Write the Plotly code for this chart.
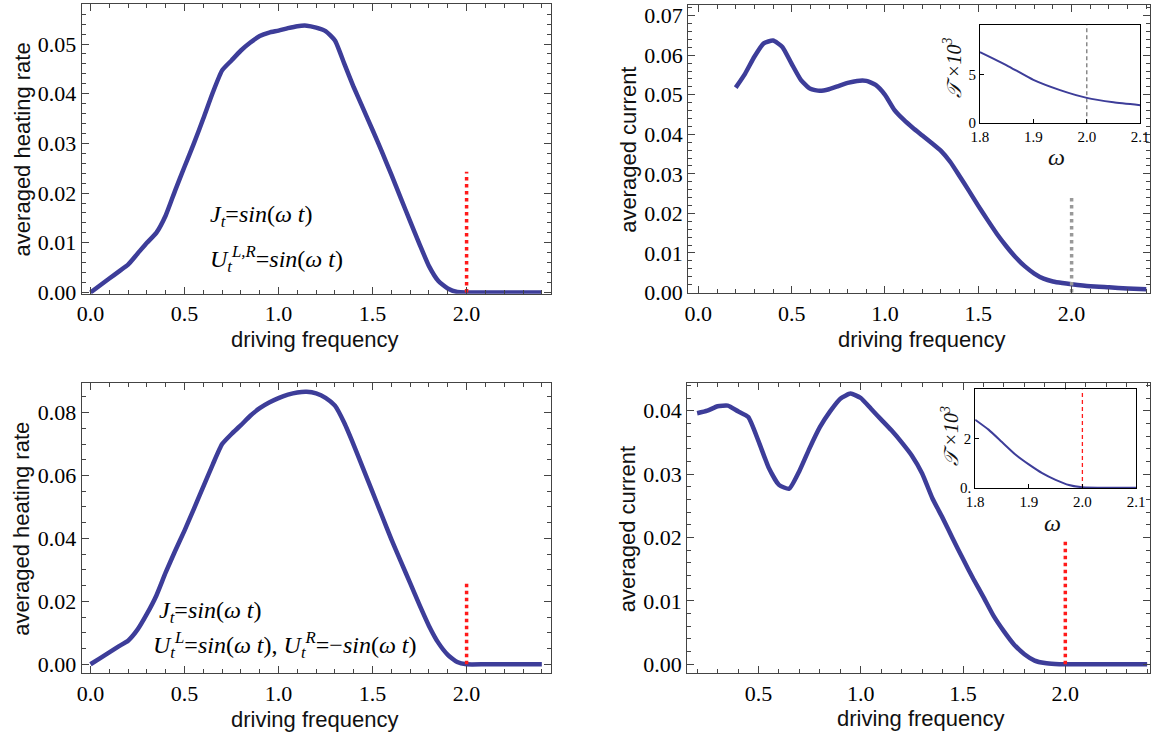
import plotly.graph_objects as go

W, H = 1159, 743
# observed placement of the figure inside the photographed page
OX, OY, SW, SH = 8.0, 0.0, 1142.0, 733.0

# ---------------- data ----------------
freq_heat = [0, 0.05, 0.1, 0.15, 0.2, 0.25, 0.3, 0.35, 0.4, 0.45, 0.5, 0.55, 0.6, 0.65, 0.7,
             0.75, 0.8, 0.85, 0.9, 0.95, 1.0, 1.05, 1.1, 1.15, 1.2, 1.25, 1.3, 1.35, 1.4, 1.45,
             1.5, 1.55, 1.6, 1.65, 1.7, 1.75, 1.8, 1.85, 1.9, 1.95, 2.0, 2.1, 2.2, 2.3, 2.4]
heat_same = [0, 0.0014, 0.0028, 0.0042, 0.0056, 0.0078, 0.0100, 0.0120, 0.0155, 0.0205, 0.0253,
             0.0300, 0.0350, 0.0402, 0.0447, 0.0467, 0.0487, 0.0503, 0.0516, 0.0523, 0.0527,
             0.0532, 0.0536, 0.0537, 0.0533, 0.0526, 0.0507, 0.0460, 0.0413, 0.0370, 0.0327,
             0.0283, 0.0237, 0.0190, 0.0143, 0.0097, 0.0053, 0.0023, 0.0008, 0.0001, 0, 0, 0, 0, 0]
heat_opp = [0, 0.0019, 0.0038, 0.0057, 0.0075, 0.0110, 0.0160, 0.0218, 0.0292, 0.0360, 0.0425,
            0.0494, 0.0565, 0.0635, 0.0700, 0.0732, 0.0760, 0.0790, 0.0814, 0.0832, 0.0846,
            0.0857, 0.0864, 0.0866, 0.0861, 0.0847, 0.0822, 0.0767, 0.0697, 0.0622, 0.0547,
            0.0472, 0.0397, 0.0327, 0.0258, 0.0188, 0.0122, 0.0068, 0.0030, 0.0007, 0, 0, 0, 0, 0]

freq_cur = [0.2, 0.25, 0.3, 0.35, 0.4, 0.45, 0.5, 0.55, 0.6, 0.65, 0.7, 0.75, 0.8, 0.85, 0.9,
            0.95, 1.0, 1.05, 1.1, 1.15, 1.2, 1.25, 1.3, 1.35, 1.4, 1.45, 1.5, 1.55, 1.6, 1.65,
            1.7, 1.75, 1.8, 1.85, 1.9, 1.95, 2.0, 2.1, 2.2, 2.3, 2.4]
cur_same = [0.0518, 0.0553, 0.0596, 0.0630, 0.0637, 0.0621, 0.0578, 0.0537, 0.0515, 0.0510,
            0.0514, 0.0522, 0.0530, 0.0535, 0.0535, 0.0525, 0.0500, 0.0462, 0.0437, 0.0416,
            0.0397, 0.0378, 0.0358, 0.0330, 0.0294, 0.0257, 0.0219, 0.0183, 0.0148, 0.0117,
            0.0089, 0.0066, 0.0048, 0.0035, 0.0028, 0.0024, 0.0021, 0.0016, 0.0013, 0.0010, 0.0008]
cur_opp = [0.0396, 0.0400, 0.0407, 0.0408, 0.0399, 0.0390, 0.0352, 0.0310, 0.0283, 0.0277,
           0.0305, 0.0341, 0.0374, 0.0399, 0.0419, 0.0427, 0.0420, 0.0403, 0.0386, 0.0369,
           0.0350, 0.0329, 0.0301, 0.0262, 0.0231, 0.0198, 0.0166, 0.0135, 0.0106, 0.0076,
           0.0052, 0.0031, 0.0016, 0.0006, 0.0002, 0.00005, 0, 0, 0, 0, 0]

inset_w1 = [1.8, 1.85, 1.9, 1.95, 2.0, 2.05, 2.1]
inset_cur1 = [7.3, 5.95, 4.45, 3.4, 2.6, 2.15, 1.85]
inset_w2 = [1.8, 1.825, 1.85, 1.875, 1.9, 1.925, 1.95, 1.975, 2.0, 2.05, 2.1]
inset_cur2 = [2.75, 2.35, 1.85, 1.35, 0.95, 0.6, 0.33, 0.12, 0.03, 0.01, 0.01]

omega_c = [2.0, 2.0]
mark_heat_same = [0, 0.0243]
mark_cur_same = [0, 0.0242]
mark_heat_opp = [0, 0.0256]
mark_cur_opp = [0, 0.0195]
inset_mark1 = [0, 10.1]
inset_mark2 = [0, 3.97]

BLUE = "#3d3d99"
SERIF = "Liberation Serif"
SANS = "Liberation Sans"
AX = "#444444"

def ux(px):
    return min(1.0, max(0.0, (px - OX) / SW))

def vy(py):
    return min(1.0, max(0.0, 1 - (py - OY) / SH))

def dx(a, b):
    return [ux(a), ux(b)]

def dy(top, bottom):
    return [vy(bottom), vy(top)]

fig = go.Figure()

def curve(x, y, xa, ya, width=4.5):
    fig.add_trace(go.Scatter(x=x, y=y, xaxis=xa, yaxis=ya, mode="lines",
                             line=dict(color=BLUE, width=width, shape="spline", smoothing=0.5),
                             showlegend=False, hoverinfo="skip"))

def vline(x, y, xa, ya, color, width, dash):
    fig.add_trace(go.Scatter(x=x, y=y, xaxis=xa, yaxis=ya, mode="lines",
                             line=dict(color=color, width=width, dash=dash),
                             showlegend=False, hoverinfo="skip"))

curve(freq_heat, heat_same, "x", "y")
vline(omega_c, mark_heat_same, "x", "y", "#ff1a1a", 3.5, "dot")
curve(freq_cur, cur_same, "x2", "y2")
vline(omega_c, mark_cur_same, "x2", "y2", "#999999", 3.5, "dot")
curve(freq_heat, heat_opp, "x3", "y3")
vline(omega_c, mark_heat_opp, "x3", "y3", "#ff1a1a", 3.5, "dot")
curve(freq_cur, cur_opp, "x4", "y4")
vline(omega_c, mark_cur_opp, "x4", "y4", "#ff1a1a", 3.5, "dot")
vline(omega_c, inset_mark1, "x5", "y5", "#777777", 1.3, "4px,3px")
curve(inset_w1, inset_cur1, "x5", "y5", width=2)
vline(omega_c, inset_mark2, "x6", "y6", "#ff1a1a", 1.3, "4px,3px")
curve(inset_w2, inset_cur2, "x6", "y6", width=2)

def main_x(dom, rng, anchor):
    return dict(domain=dom, range=rng, anchor=anchor, showgrid=False, zeroline=False,
                showline=True, linecolor=AX, linewidth=1, mirror="allticks",
                ticks="inside", ticklen=7, tickwidth=1, tickcolor=AX,
                tick0=0, dtick=0.5, tickformat=".1f",
                tickfont=dict(family=SERIF, size=22, color="black"),
                minor=dict(ticks="inside", ticklen=4, tickcolor=AX, tick0=0, dtick=0.1, showgrid=False))

def main_y(dom, rng, anchor, dt, mdt):
    return dict(domain=dom, range=rng, anchor=anchor, showgrid=False, zeroline=False,
                showline=True, linecolor=AX, linewidth=1, mirror="allticks",
                ticks="inside", ticklen=7, tickwidth=1, tickcolor=AX,
                tick0=0, dtick=dt, tickformat=".2f", ticklabeloverflow="allow",
                tickfont=dict(family=SERIF, size=22, color="black"),
                minor=dict(ticks="inside", ticklen=4, tickcolor=AX, tick0=0, dtick=mdt, showgrid=False))

def inset_x(dom, anchor):
    return dict(domain=dom, range=[1.8, 2.1], anchor=anchor, showgrid=False, zeroline=False,
                showline=True, linecolor="black", linewidth=1, mirror=True,
                ticks="inside", ticklen=4, tickcolor="black",
                tickvals=[1.8, 1.9, 2.0, 2.1], ticktext=["1.8", "1.9", "2.0", "2.1"],
                tickfont=dict(family=SERIF, size=15, color="black"))

def inset_y(dom, rng, anchor, vals, text):
    return dict(domain=dom, range=rng, anchor=anchor, showgrid=False, zeroline=False,
                showline=True, linecolor="black", linewidth=1, mirror=True,
                ticks="inside", ticklen=4, tickcolor="black",
                tickvals=vals, ticktext=text,
                tickfont=dict(family=SERIF, size=15, color="black"))

fig.update_layout(
    width=W, height=H, autosize=False, margin=dict(l=0, r=0, t=0, b=0, pad=0),
    paper_bgcolor="white", plot_bgcolor="white", showlegend=False,
    xaxis=main_x(dx(80.7, 550.7), [-0.047, 2.45], "y"),
    yaxis=main_y(dy(3.3, 294), [-0.00027, 0.058], "x", 0.01, 0.002),
    xaxis2=main_x(dx(687.7, 1150), [-0.055, 2.42], "y2"),
    yaxis2=main_y(dy(4, 293.5), [-0.0002, 0.0727], "x2", 0.01, 0.002),
    xaxis3=main_x(dx(80.7, 550.7), [-0.047, 2.45], "y3"),
    yaxis3=main_y(dy(383.3, 675), [-0.00285, 0.0895], "x3", 0.02, 0.005),
    xaxis4=main_x(dx(686.7, 1150), [0.151, 2.414], "y4"),
    yaxis4=main_y(dy(384, 675), [-0.0014, 0.0443], "x4", 0.01, 0.002),
    xaxis5=inset_x(dx(979.8, 1140.2), "y5"),
    yaxis5=inset_y(dy(24, 122.7), [0, 10.1], "x5", [0, 5], ["0", "5"]),
    xaxis6=inset_x(dx(975, 1136), "y6"),
    yaxis6=inset_y(dy(390, 489), [0, 3.97], "x6", [0, 2], ["0.", "2"]),
)

ann = []
def paper_text(text, px, py, size, family=SANS, angle=0):
    ann.append(dict(text=text, x=ux(px), y=vy(py), xref="paper", yref="paper",
                    showarrow=False, textangle=angle, xanchor="center", yanchor="middle",
                    font=dict(family=family, size=size, color="#111111")))

paper_text("driving frequency", 314, 340, 22)
paper_text("driving frequency", 921.7, 340, 22)
paper_text("driving frequency", 314, 721, 22)
paper_text("driving frequency", 921.2, 720, 22)
paper_text("averaged heating rate", 21, 149, 22, angle=-90)
paper_text("averaged current", 628, 149, 22, angle=-90)
paper_text("averaged heating rate", 21, 530, 22, angle=-90)
paper_text("averaged current", 627, 530, 22, angle=-90)
paper_text("<i>ω</i>", 1056, 157, 24, family=SERIF)
paper_text("<i>ω</i>", 1052, 524, 24, family=SERIF)
paper_text("<i>𝒯 ×10<sup>3</sup></i>", 952, 67, 20, family=SERIF, angle=-90)
paper_text("<i>𝒯 ×10<sup>3</sup></i>", 950, 437, 20, family=SERIF, angle=-90)

def data_text(text, x, y, xr, yr):
    ann.append(dict(text=text, x=x, y=y, xref=xr, yref=yr, showarrow=False,
                    xanchor="left", yanchor="middle",
                    font=dict(family=SERIF, size=24, color="black")))

data_text("<i>J<sub>t</sub></i>=<i>sin</i>(<i>ω t</i>)", 0.627, 0.0153, "x", "y")
data_text("<i>U<sub>t</sub><sup>L,R</sup></i>=<i>sin</i>(<i>ω t</i>)", 0.627, 0.0067, "x", "y")
data_text("<i>J<sub>t</sub></i>=<i>sin</i>(<i>ω t</i>)", 0.354, 0.0167, "x3", "y3")
data_text("<i>U<sub>t</sub><sup>L</sup></i>=<i>sin</i>(<i>ω t</i>), "
          "<i>U<sub>t</sub><sup>R</sup></i>=−<i>sin</i>(<i>ω t</i>)", 0.324, 0.0061, "x3", "y3")

fig.update_layout(annotations=ann)

fig.write_html("out.html", config={"displayModeBar": False},
               post_script="document.body.style.margin='0px';")
